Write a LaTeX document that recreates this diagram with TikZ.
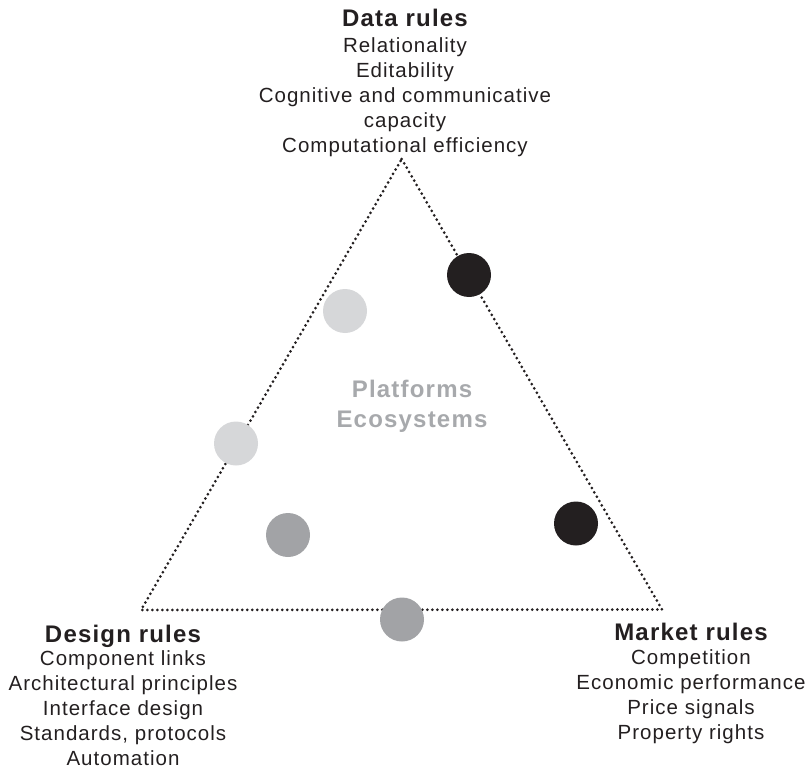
\documentclass[tikz,border=0pt]{standalone}
\usepackage{fontspec}
\setmainfont{Liberation Sans}[LetterSpace=5]
\definecolor{ink}{HTML}{231F20}
\definecolor{lightdot}{HTML}{D6D7D9}
\definecolor{middot}{HTML}{A2A3A6}
\definecolor{pfgray}{HTML}{A7A9AC}
\begin{document}
\begin{tikzpicture}[x=1pt,y=-1pt,
  edge/.style={draw=ink, line width=3pt, line cap=round, dash pattern=on 0pt off 5pt},
  dotnode/.style={circle, minimum size=44pt, inner sep=0pt, draw=none},
  label/.style={align=center, inner sep=0pt, text=ink, anchor=north, font=\fontsize{20.5}{24.9}\selectfont}]
\useasboundingbox (0,0) rectangle (811,773);
\coordinate (top) at (401.7,159);
\coordinate (bl) at (141,610);
\coordinate (br) at (662,609.5);
\draw[edge] (top) -- (br) -- (bl) -- cycle;
\node[dotnode, fill=ink] (b1) at (469,275) {};
\node[dotnode, fill=lightdot] (l1) at (345,311) {};
\node[dotnode, fill=lightdot] (l2) at (236,443.5) {};
\node[dotnode, fill=ink] (b2) at (576,523.5) {};
\node[dotnode, fill=middot] (m1) at (288,535) {};
\node[dotnode, fill=middot] (m2) at (402,619.5) {};
\node[label] (data) at (405,8.5) {{\bfseries\fontsize{24}{24.9}\selectfont Data rules}\\[2pt]
Relationality\\ Editability\\ Cognitive and communicative\\ capacity\\ Computational efficiency};
\node[label] (design) at (123,624.5) {{\bfseries\fontsize{24}{24.9}\selectfont Design rules}\\[-1pt]
Component links\\ Architectural principles\\ Interface design\\ Standards, protocols\\ Automation};
\node[label] (market) at (691,622.5) {{\bfseries\fontsize{24}{24.9}\selectfont Market rules}\\[-0.5pt]
Competition\\ Economic performance\\ Price signals\\ Property rights};
\node[align=center, inner sep=0pt, anchor=north, text=pfgray, font=\bfseries\fontsize{24}{30}\selectfont] (pf) at (412,379.5) {Platforms\\ Ecosystems};
\end{tikzpicture}
\end{document}
